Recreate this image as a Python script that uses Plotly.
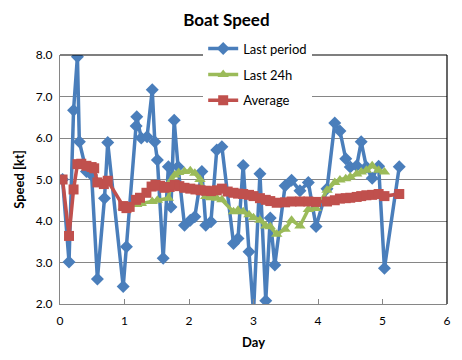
import plotly.graph_objects as go

# Last period (blue)
last_x = [0.04, 0.14, 0.21, 0.27, 0.30, 0.41, 0.49, 0.58, 0.69, 0.74, 0.98, 1.03, 1.18, 1.19,
          1.26, 1.35, 1.43, 1.47, 1.51, 1.60, 1.68, 1.72, 1.77, 1.83, 1.93, 2.02, 2.09, 2.20,
          2.26, 2.34, 2.43, 2.51, 2.69, 2.76, 2.84, 2.93, 3.00, 3.10, 3.19, 3.26, 3.33, 3.49,
          3.59, 3.72, 3.85, 3.97, 4.14, 4.26, 4.34, 4.43, 4.50, 4.60, 4.67, 4.75, 4.84, 4.94,
          5.03, 5.26]
last_y = [5.00, 3.01, 6.67, 7.96, 5.91, 5.19, 5.11, 2.60, 4.55, 5.89, 2.42, 3.38, 6.29, 6.51,
          6.00, 6.03, 7.16, 5.91, 5.47, 3.10, 5.31, 4.34, 6.43, 5.31, 3.90, 4.02, 4.10, 5.19,
          3.90, 3.98, 5.71, 5.79, 3.46, 3.58, 5.34, 3.26, 1.80, 5.14, 2.08, 4.07, 2.94, 4.85,
          4.98, 4.73, 4.93, 3.87, 4.78, 6.36, 6.17, 5.50, 5.30, 5.33, 5.91, 5.30, 5.03, 5.32,
          2.86, 5.31]

# Last 24h (green)
h24_x = [0.98, 1.03, 1.19, 1.26, 1.43, 1.51, 1.68, 1.73, 1.78, 1.84, 1.93, 2.02, 2.09, 2.17,
         2.26, 2.34, 2.43, 2.51, 2.69, 2.76, 2.84, 2.93, 3.00, 3.10, 3.19, 3.26, 3.36, 3.49,
         3.59, 3.72, 3.85, 3.97, 4.14, 4.26, 4.34, 4.43, 4.50, 4.60, 4.67, 4.75, 4.84, 4.94,
         5.03]
h24_y = [4.33, 4.33, 4.40, 4.42, 4.47, 4.50, 4.55, 4.99, 5.11, 5.17, 5.19, 5.21, 5.15, 5.00,
         4.59, 4.56, 4.55, 4.51, 4.22, 4.26, 4.22, 4.15, 4.08, 4.02, 3.88, 3.86, 3.68, 3.80,
         4.02, 3.88, 4.28, 4.30, 4.74, 4.93, 4.99, 5.02, 5.06, 5.13, 5.18, 5.22, 5.33, 5.22,
         5.18]

# Average (red)
avg_x = [0.04, 0.14, 0.21, 0.27, 0.33, 0.41, 0.49, 0.53, 0.58, 0.68, 0.74, 0.98, 1.03, 1.08,
         1.18, 1.24, 1.34, 1.42, 1.48, 1.55, 1.62, 1.70, 1.78, 1.85, 1.93, 2.02, 2.10, 2.18,
         2.26, 2.34, 2.43, 2.51, 2.60, 2.69, 2.76, 2.84, 2.93, 3.00, 3.10, 3.19, 3.26, 3.36,
         3.49, 3.59, 3.72, 3.85, 3.97, 4.14, 4.26, 4.34, 4.43, 4.50, 4.60, 4.67, 4.75, 4.84,
         4.94, 5.03, 5.26]
avg_y = [5.00, 3.64, 4.76, 5.37, 5.38, 5.33, 5.30, 5.27, 4.93, 4.89, 4.97, 4.36, 4.31, 4.34,
         4.51, 4.56, 4.68, 4.83, 4.87, 4.85, 4.80, 4.82, 4.87, 4.84, 4.80, 4.78, 4.76, 4.74,
         4.73, 4.72, 4.74, 4.78, 4.71, 4.68, 4.66, 4.65, 4.63, 4.60, 4.55, 4.51, 4.48, 4.44,
         4.45, 4.47, 4.47, 4.47, 4.46, 4.47, 4.50, 4.54, 4.55, 4.56, 4.58, 4.60, 4.62, 4.63,
         4.65, 4.60, 4.65]

x_ticks = [0, 1, 2, 3, 4, 5, 6]
y_ticks = [2.0, 3.0, 4.0, 5.0, 6.0, 7.0, 8.0]

FONT = "Lato"
fig = go.Figure()
fig.add_trace(go.Scatter(x=last_x, y=last_y, name="Last period", mode="lines+markers",
                         line=dict(color="#4A7EBB", width=3.5),
                         marker=dict(symbol="diamond", size=10, color="#4A7EBB"),
                         legendgroup="a"))
fig.add_trace(go.Scatter(x=h24_x, y=h24_y, name="Last 24h", mode="lines+markers",
                         line=dict(color="#9BBB59", width=3.5),
                         marker=dict(symbol="triangle-up", size=10, color="#9BBB59"),
                         legendgroup="b"))
fig.add_trace(go.Scatter(x=avg_x, y=avg_y, name="Average", mode="lines+markers",
                         line=dict(color="#C0504D", width=3.5),
                         marker=dict(symbol="square", size=10, color="#C0504D"),
                         legendgroup="c"))

fig.add_shape(type="line", xref="x domain", yref="y domain", x0=0, x1=1, y0=1, y1=1,
              line=dict(color="black", width=1.2), layer="above")
fig.add_shape(type="line", xref="x domain", yref="y domain", x0=1, x1=1, y0=0, y1=1,
              line=dict(color="black", width=1.2), layer="above")

fig.update_layout(
    width=462, height=360,
    margin=dict(l=60, r=15, t=55, b=56),
    paper_bgcolor="white", plot_bgcolor="white",
    font=dict(family=FONT, size=12, color="#000000"),
    title=dict(text="<b>Boat Speed</b>", x=0.49, xanchor="center", y=0.945, yanchor="middle",
               font=dict(family=FONT, size=17, color="black")),
    showlegend=True,
    legend=dict(x=0.37, y=1.086, xanchor="left", yanchor="top", bgcolor="white",
                font=dict(family=FONT, size=13), itemwidth=30,
                traceorder="grouped", tracegroupgap=6),
    xaxis=dict(range=[0, 6], tickvals=x_ticks, ticks="inside", ticklen=5, tickcolor="#868686",
               showline=True, linecolor="#868686", linewidth=1, showgrid=False, zeroline=False,
               automargin=False,
               title=dict(text="<b>Day</b>", font=dict(family=FONT, size=13), standoff=10),
               tickfont=dict(family=FONT, size=12), ticklabelstandoff=6),
    yaxis=dict(range=[2, 8], tickvals=y_ticks, tickformat=".1f", ticks="",
               showline=True, linecolor="#868686", linewidth=1, showgrid=True,
               gridcolor="#868686", gridwidth=1, zeroline=False, automargin=False,
               title=dict(text="<b>Speed [kt]</b>", font=dict(family=FONT, size=13), standoff=8),
               tickfont=dict(family=FONT, size=12), ticklabelstandoff=4),
)

fig.write_html("out.html", config={"displayModeBar": False},
               post_script="document.body.style.margin='0';")
